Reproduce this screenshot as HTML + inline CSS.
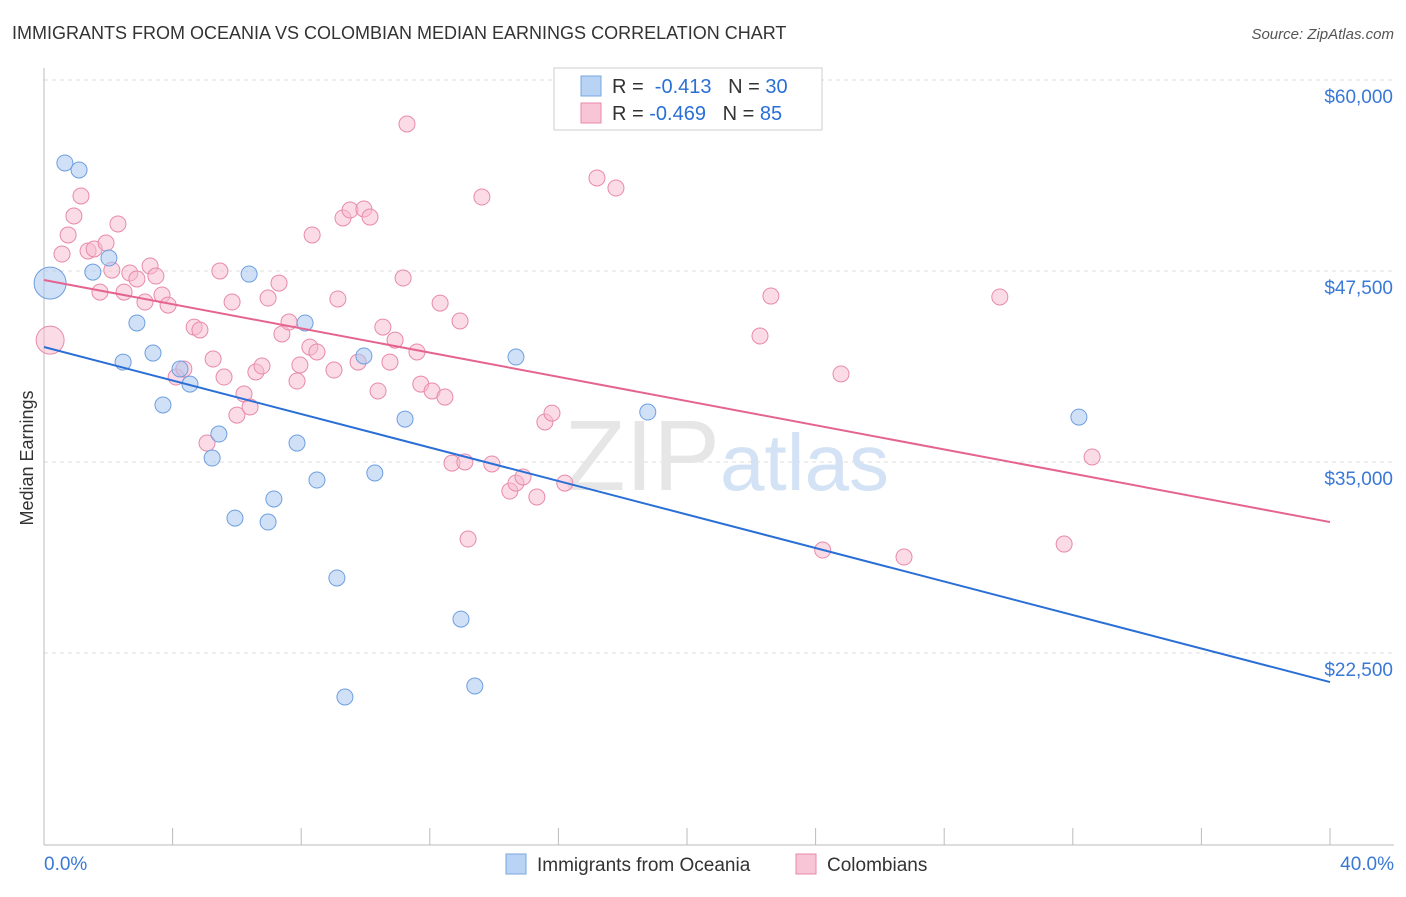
<!DOCTYPE html>
<html><head><meta charset="utf-8"><style>
body{margin:0;background:#fff;font-family:"Liberation Sans",sans-serif}
svg text{font-family:"Liberation Sans",sans-serif}
</style></head><body>
<svg id="chart" width="1406" height="892">
<text x="12" y="39" font-size="18" fill="#333">IMMIGRANTS FROM OCEANIA VS COLOMBIAN MEDIAN EARNINGS CORRELATION CHART</text>
<text x="1394" y="39" font-size="15" fill="#555" font-style="italic" text-anchor="end">Source: ZipAtlas.com</text>
<text x="33" y="458" font-size="18" fill="#333" transform="rotate(-90 33 458)" text-anchor="middle">Median Earnings</text>
<g id="grid"></g><g id="axes"></g>
<text x="720" y="490" font-size="100" fill="#e6e6e6" text-anchor="end" font-family="Liberation Serif">ZIP</text>
<text x="720" y="490" font-size="80" fill="#d3e2f4">atlas</text>
<g id="pts"></g><g id="lines"></g>
<g>
<rect x="554" y="68" width="268" height="62" fill="#fff" stroke="#ccc"/>
<rect x="581" y="76" width="20" height="20" fill="#b8d3f4" stroke="#7aa7e0"/>
<text x="612" y="93" font-size="20" fill="#333">R = <tspan fill="#2a6fd6">&#160;-0.413</tspan>&#160;&#160;&#160;N = <tspan fill="#2a6fd6">30</tspan></text>
<rect x="581" y="103" width="20" height="20" fill="#f8c5d6" stroke="#e88aa8"/>
<text x="612" y="120" font-size="20" fill="#333">R = <tspan fill="#2a6fd6">-0.469</tspan>&#160;&#160;&#160;N = <tspan fill="#2a6fd6">85</tspan></text>
</g>
<rect x="506" y="854" width="20" height="20" fill="#b8d3f4" stroke="#7aa7e0"/>
<text x="537" y="871" font-size="19" fill="#333">Immigrants from Oceania</text>
<rect x="796" y="854" width="20" height="20" fill="#f8c5d6" stroke="#e88aa8"/>
<text x="827" y="871" font-size="19" fill="#333">Colombians</text>
</svg>
<script>
const yTicks=[60000,47500,35000,22500];
const yTickLabels=["$60,000","$47,500","$35,000","$22,500"];
const xEndLabels=["0.0%","40.0%"];
const blueX=[0.65,1.09,0.19,1.52,2.02,2.89,2.46,3.39,3.70,4.23,4.54,5.44,5.23,5.94,6.38,6.97,7.15,7.87,8.12,8.49,9.11,9.36,9.95,10.29,11.23,12.97,13.40,14.68,18.78,32.19];
const blueY=[54570,54110,46710,47430,48350,44100,41540,42130,38730,41090,40100,36830,35260,31330,47300,31070,32580,36240,44100,33820,27410,19620,41940,34280,37810,24720,20340,41870,38270,37940];
const pinkX=[0.19,0.56,0.75,0.93,1.15,1.37,1.56,1.74,1.93,2.11,2.30,2.49,2.67,2.89,3.14,3.30,3.48,3.67,3.86,4.11,4.35,4.67,4.85,5.07,5.26,5.47,5.60,5.85,6.00,6.22,6.41,6.59,6.78,6.97,7.31,7.40,7.62,7.87,7.96,8.27,8.49,8.34,9.02,9.14,9.30,9.52,9.77,9.95,10.14,10.39,10.54,10.76,10.92,11.17,11.29,11.60,11.72,12.07,12.32,12.47,12.69,12.94,13.09,13.19,13.62,13.93,14.49,14.68,14.90,15.33,15.58,15.80,16.20,17.20,17.79,22.27,22.61,24.22,24.79,26.75,29.73,31.73,32.60];
const pinkY=[42980,48610,49860,51100,52410,48810,48940,46120,49330,47560,50580,46120,47370,46980,45470,47830,47170,45930,45270,40560,41090,43830,43640,36240,41740,47500,40560,45470,38070,39450,38600,40890,41280,45730,46710,43380,44160,40300,41350,42520,42200,49860,41020,45670,50970,51490,41540,51560,51030,39650,43830,41540,42980,47040,57120,42200,40100,39650,45400,39250,34930,44230,35000,29960,52340,34870,33100,33620,34020,32710,37620,38200,33620,53590,52930,43250,45860,29240,40760,28780,45800,29630,35330];
const blueTrend=[42525,20600];
const pinkTrend=[46910,31070];
const NS="http://www.w3.org/2000/svg";
const X0=44,X1=1330,Y60=80,PXPER=191/12500;
const xs=v=>X0+(v/40)*(X1-X0);
const ys=v=>Y60+(60000-v)*PXPER;
function mk(tag,attrs,parent){const e=document.createElementNS(NS,tag);for(const k in attrs)e.setAttribute(k,attrs[k]);parent.appendChild(e);return e;}
const grid=document.getElementById('grid'),axes=document.getElementById('axes'),pts=document.getElementById('pts'),lines=document.getElementById('lines');
yTicks.forEach((t,i)=>{
 const l=mk('line',{x1:44,x2:1394,y1:ys(t),y2:ys(t),stroke:'#ddd','stroke-dasharray':'4,4'},grid);
 
 
 const tx=mk('text',{x:1393,y:ys(t)+23,'font-size':19,fill:'#3a78d6','text-anchor':'end'},grid);
 tx.textContent=yTickLabels[i];
 
 
});
const ax=mk('line',{x1:44,x2:1394,y1:845,y2:845,stroke:'#bbb'},axes);


const ay=mk('line',{x1:44,x2:44,y1:68,y2:845,stroke:'#bbb'},axes);


for(let i=0;i<=10;i++){const tk=mk('line',{x1:xs(i*4),x2:xs(i*4),y1:828,y2:845,stroke:'#bbb'},axes);
 
 }
const xl0=mk('text',{x:44,y:870,'font-size':19,fill:'#3a78d6'},axes);xl0.textContent=xEndLabels[0];


const xl1=mk('text',{x:1394,y:870,'font-size':19,fill:'#3a78d6','text-anchor':'end'},axes);xl1.textContent=xEndLabels[1];


pinkX.forEach((x,i)=>{const c=mk('circle',{cx:xs(x),cy:ys(pinkY[i]),r:(i==0?14:8),fill:'#f7b9cd','fill-opacity':0.5,stroke:'#e88aa8','stroke-width':1},pts);
 
 });
blueX.forEach((x,i)=>{const c=mk('circle',{cx:xs(x),cy:ys(blueY[i]),r:(i==2?16:8),fill:'#aac8f0','fill-opacity':0.55,stroke:'#6e9fe0','stroke-width':1},pts);
 
 });
const bl=mk('line',{x1:xs(0),y1:ys(blueTrend[0]),x2:xs(40),y2:ys(blueTrend[1]),stroke:'#2a6fd6','stroke-width':2},lines);


const pl=mk('line',{x1:xs(0),y1:ys(pinkTrend[0]),x2:xs(40),y2:ys(pinkTrend[1]),stroke:'#e5648f','stroke-width':2},lines);


</script>
</body></html>
